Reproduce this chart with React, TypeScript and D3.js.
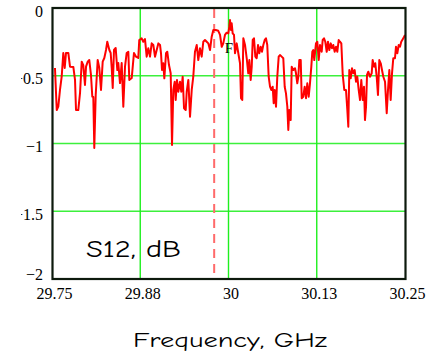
import React from "react";
import * as d3 from "d3";

// Measured transmission S12 across the band
const freqGHz: number[] = [
  29.7535, 29.756, 29.7582, 29.7606, 29.763, 29.7653, 29.7673, 29.7691, 29.7724, 29.7748,
  29.7795, 29.7819, 29.7833, 29.7865, 29.789, 29.7914, 29.7936, 29.796, 29.7975, 29.7999,
  29.8021, 29.8045, 29.8064, 29.8078, 29.8092, 29.8112, 29.814, 29.8163, 29.8187, 29.8211,
  29.8234, 29.8258, 29.8276, 29.8305, 29.8324, 29.8339, 29.8353, 29.8371, 29.8395, 29.8418,
  29.8432, 29.8456, 29.848, 29.8503, 29.8527, 29.8551, 29.8574, 29.8588, 29.8622, 29.8654,
  29.8683, 29.8715, 29.8729, 29.8763, 29.8786, 29.881, 29.8834, 29.8857, 29.8881, 29.8905,
  29.8928, 29.8952, 29.8976, 29.8999, 29.9023, 29.9037, 29.9051, 29.9069, 29.9084, 29.9108,
  29.9126, 29.915, 29.9174, 29.9193, 29.9211, 29.9231, 29.9245, 29.9263, 29.9282, 29.9306,
  29.9324, 29.9344, 29.9363, 29.9387, 29.9401, 29.9424, 29.9448, 29.9472, 29.9494, 29.9518,
  29.9543, 29.9565, 29.9589, 29.9613, 29.9636, 29.966, 29.9684, 29.9707, 29.9731, 29.9755,
  29.9778, 29.9812, 29.9848, 29.9873, 29.9897, 29.9919, 29.9943, 29.9967, 29.999, 30.0004,
  30.0014, 30.0028, 30.0038, 30.0052, 30.0071, 30.0085, 30.0109, 30.0132, 30.0156, 30.017,
  30.0188, 30.0203, 30.0227, 30.0251, 30.0273, 30.0288, 30.0307, 30.0322, 30.0336, 30.0354,
  30.0373, 30.0392, 30.0411, 30.0429, 30.0449, 30.0467, 30.0486, 30.0506, 30.0524, 30.0542,
  30.0562, 30.0581, 30.0599, 30.0619, 30.0633, 30.0647, 30.0666, 30.0684, 30.0704, 30.0722,
  30.0746, 30.0769, 30.0789, 30.0807, 30.0826, 30.084, 30.0854, 30.0874, 30.0888, 30.0911,
  30.0935, 30.0949, 30.0967, 30.0982, 30.0996, 30.1016, 30.103, 30.1052, 30.1072, 30.1091,
  30.1109, 30.1129, 30.1147, 30.1166, 30.118, 30.1194, 30.1208, 30.1232, 30.1251, 30.1271,
  30.1289, 30.1313, 30.1327, 30.1346, 30.1364, 30.1384, 30.1402, 30.1421, 30.1441, 30.1459,
  30.1477, 30.1497, 30.1516, 30.1534, 30.1554, 30.1572, 30.1591, 30.1611, 30.1633, 30.1657,
  30.1676, 30.169, 30.1704, 30.1724, 30.1742, 30.1761, 30.178, 30.1799, 30.1817, 30.1837,
  30.1856, 30.1874, 30.1894, 30.1912, 30.1926, 30.1941, 30.1955, 30.1973, 30.1997, 30.2021,
  30.2035, 30.2054, 30.2072, 30.2092, 30.211, 30.2129, 30.2149, 30.2167, 30.2186, 30.221,
  30.2234, 30.2252, 30.2271, 30.229, 30.2309, 30.2327, 30.2351, 30.2365, 30.2384, 30.2404,
  30.2422, 30.244, 30.2469, 30.2493,
];

const s12dB: number[] = [
  -0.443, -0.753, -0.728, -0.605, -0.507, -0.332, -0.443, -0.332, -0.332, -0.433,
  -0.435, -0.531, -0.753, -0.753, -0.627, -0.396, -0.421, -0.568, -0.433, -0.396,
  -0.384, -0.494, -0.655, -0.657, -1.033, -0.642, -0.384, -0.443, -0.605, -0.396,
  -0.369, -0.31, -0.249, -0.31, -0.332, -0.443, -0.59, -0.31, -0.295, -0.458,
  -0.406, -0.554, -0.406, -0.728, -0.433, -0.332, -0.323, -0.531, -0.517, -0.332,
  -0.359, -0.369, -0.236, -0.224, -0.249, -0.229, -0.359, -0.297, -0.359, -0.261,
  -0.273, -0.359, -0.31, -0.261, -0.273, -0.334, -0.458, -0.408, -0.519, -0.334,
  -0.323, -0.421, -0.482, -1.011, -0.605, -0.544, -0.679, -0.531, -0.618, -0.544,
  -0.618, -0.507, -0.74, -0.753, -0.618, -0.531, -0.802, -0.605, -0.507, -0.323,
  -0.273, -0.384, -0.297, -0.359, -0.249, -0.236, -0.249, -0.261, -0.31, -0.212,
  -0.162, -0.162, -0.168, -0.199, -0.286, -0.261, -0.199, -0.182, -0.187, -0.14,
  -0.089, -0.162, -0.113, -0.187, -0.199, -0.334, -0.261, -0.334, -0.408, -0.666,
  -0.679, -0.224, -0.273, -0.371, -0.482, -0.384, -0.531, -0.433, -0.236, -0.224,
  -0.359, -0.371, -0.273, -0.334, -0.286, -0.323, -0.273, -0.236, -0.224, -0.273,
  -0.507, -0.581, -0.605, -0.581, -0.703, -0.605, -0.728, -0.507, -0.359, -0.347,
  -0.359, -0.371, -0.581, -0.63, -0.728, -0.9, -0.753, -0.827, -0.433, -0.458,
  -0.445, -0.482, -0.556, -0.507, -0.384, -0.384, -0.666, -0.655, -0.581, -0.666,
  -0.556, -0.655, -0.556, -0.433, -0.323, -0.31, -0.384, -0.261, -0.249, -0.384,
  -0.273, -0.323, -0.236, -0.224, -0.249, -0.323, -0.249, -0.31, -0.261, -0.297,
  -0.273, -0.323, -0.286, -0.323, -0.236, -0.249, -0.261, -0.494, -0.605, -0.605,
  -0.753, -0.876, -0.458, -0.519, -0.445, -0.482, -0.458, -0.544, -0.507, -0.605,
  -0.679, -0.531, -0.679, -0.581, -0.827, -0.728, -0.494, -0.47, -0.507, -0.482,
  -0.384, -0.433, -0.408, -0.507, -0.642, -0.384, -0.408, -0.458, -0.507, -0.544,
  -0.777, -0.605, -0.458, -0.679, -0.482, -0.371, -0.371, -0.286, -0.334, -0.273,
  -0.286, -0.249, -0.224, -0.199,
];

const xTickValues: number[] = [29.75, 29.875, 30, 30.125, 30.25];
const xTickLabels: string[] = ["29.75", "29.88", "30", "30.13", "30.25"];
const yTickValues: number[] = [0, -0.5, -1, -1.5, -2];
const yTickLabels: string[] = ["0", "\u22120.5", "\u22121", "\u22121.5", "\u22122"];

// Marker frequency (dashed line) and the "F" label position
const markerFreq = 29.979;
const fLabelFreq = 30.0;
const fLabelDb = -0.33;

const W = 426;
const H = 361;

export default function App() {
  const x = d3.scaleLinear().domain([29.75, 30.25]).range([52.5, 405.5]);
  const y = d3.scaleLinear().domain([0, -2]).range([8, 279]);

  const points = freqGHz.map((f, i) => [f, s12dB[i]] as [number, number]);
  const line = d3
    .line<[number, number]>()
    .x((d) => x(d[0]))
    .y((d) => y(d[1]));

  const serif = "'Liberation Serif', 'Times New Roman', serif";
  const comic = "'Comic Sans MS', 'Comic Neue', 'DejaVu Sans', sans-serif";

  return (
    <svg
      width={W}
      height={H}
      style={{ position: "absolute", left: 0, top: 0, background: "#fff" }}
    >
      <defs>
        <clipPath id="plot-clip">
          <rect x={52.5} y={8} width={353} height={271} />
        </clipPath>
        <clipPath id="ylabel-clip">
          <rect x={21} y={0} width={40} height={H} />
        </clipPath>
      </defs>

      {/* grid */}
      {yTickValues.slice(1, -1).map((v) => (
        <line
          key={"gy" + v}
          x1={52.5}
          x2={405.5}
          y1={y(v)}
          y2={y(v)}
          stroke="#3cf03c"
          strokeWidth={1.3}
        />
      ))}
      {xTickValues.slice(1, -1).map((v) => (
        <line
          key={"gx" + v}
          x1={x(v) - 0.5}
          x2={x(v) - 0.5}
          y1={8}
          y2={279}
          stroke="#1ef01e"
          strokeWidth={1.4}
        />
      ))}

      {/* marker */}
      <line
        x1={x(markerFreq)}
        x2={x(markerFreq)}
        y1={9}
        y2={279}
        stroke="#ff6a6a"
        strokeWidth={2}
        strokeDasharray="9,6"
      />

      {/* trace */}
      <path
        d={line(points) || ""}
        fill="none"
        stroke="#ff0000"
        strokeWidth={2}
        strokeLinejoin="round"
        clipPath="url(#plot-clip)"
      />

      <text
        x={x(fLabelFreq)}
        y={y(fLabelDb)}
        textAnchor="middle"
        fontFamily={serif}
        fontSize={15}
        fill="#000"
      >
        F
      </text>

      {/* frame */}
      <rect
        x={52.5}
        y={8}
        width={353}
        height={271}
        fill="none"
        stroke="#0d1a0d"
        strokeWidth={2.2}
      />

      {/* y tick labels */}
      <g clipPath="url(#ylabel-clip)">
        {yTickValues.map((v, i) => (
          <text
            key={"yl" + v}
            x={43}
            y={y(v) + (i === yTickValues.length - 1 ? 1 : 8.5)}
            textAnchor="end"
            fontFamily={serif}
            fontSize={16}
            fill="#000"
          >
            {yTickLabels[i]}
          </text>
        ))}
      </g>

      {/* x tick labels */}
      {xTickValues.map((v, i) => (
        <text
          key={"xl" + v}
          x={x(v) + 2}
          y={299}
          textAnchor="middle"
          fontFamily={serif}
          fontSize={16}
          fill="#000"
        >
          {xTickLabels[i]}
        </text>
      ))}

      <text
        x={86}
        y={257}
        fontFamily={comic}
        fontSize={24}
        textLength={95}
        lengthAdjust="spacingAndGlyphs"
        fill="#000"
      >
        S12, dB
      </text>

      <text
        x={133}
        y={347}
        fontFamily={comic}
        fontSize={21}
        textLength={194}
        lengthAdjust="spacingAndGlyphs"
        fill="#000"
      >
        Frequency, GHz
      </text>
    </svg>
  );
}
